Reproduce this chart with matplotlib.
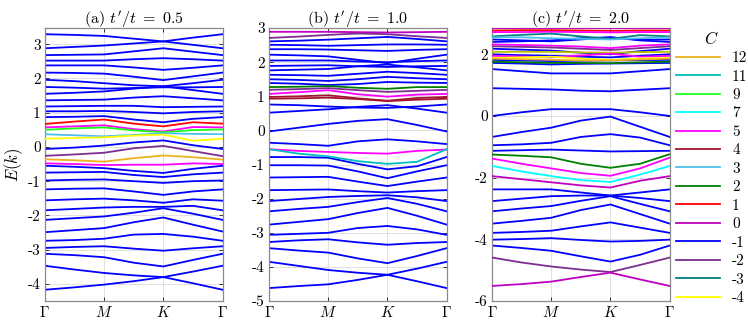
import matplotlib
matplotlib.use('Agg')
import matplotlib.pyplot as plt
from matplotlib.lines import Line2D

plt.rcParams['font.family'] = 'cmr10'
plt.rcParams['mathtext.fontset'] = 'cm'
plt.rcParams['axes.unicode_minus'] = False
plt.rcParams['axes.formatter.use_mathtext'] = True

# k path Gamma - M - K - Gamma, sampled at mid points too
k_pts = [0, 0.5, 1, 1.5, 2, 2.5, 3]
k_labels = [r'$\Gamma$', r'$M$', r'$K$', r'$\Gamma$']

# colour for each Chern number C
c_colors = {
    12: (0.93, 0.69, 0.13), 11: (0.0, 0.75, 0.75), 9: (0.1, 1.0, 0.1),
    7: (0.0, 1.0, 1.0), 6: (0.75, 0.75, 0.0), 5: (1.0, 0.0, 1.0),
    4: (0.64, 0.08, 0.18), 3: (0.30, 0.75, 0.93), 2: (0.0, 0.5, 0.0),
    1: (1.0, 0.0, 0.0), 0: (0.75, 0.0, 0.75), -1: (0.0, 0.0, 1.0),
    -2: (0.49, 0.18, 0.56), -3: (0.0, 0.5, 0.5), -4: (1.0, 1.0, 0.0),
}
legend_c = [12, 11, 9, 7, 5, 4, 3, 2, 1, 0, -1, -2, -3, -4]

# (a) t'/t = 0.5
bands_a = [
    [3.29, 3.27, 3.24, 3.16, 3.08, 3.19, 3.29],
    [2.88, 2.92, 2.96, 3.02, 3.08, 2.98, 2.88],
    [2.68, 2.69, 2.70, 2.79, 2.88, 2.78, 2.68],
    [2.52, 2.52, 2.52, 2.56, 2.59, 2.56, 2.52],
    [2.38, 2.38, 2.38, 2.32, 2.25, 2.31, 2.38],
    [2.17, 2.16, 2.14, 2.05, 1.95, 2.06, 2.17],
    [1.96, 1.92, 1.86, 1.80, 1.77, 1.86, 1.96],
    [1.75, 1.73, 1.70, 1.72, 1.74, 1.74, 1.75],
    [1.55, 1.58, 1.62, 1.70, 1.77, 1.66, 1.55],
    [1.36, 1.37, 1.38, 1.44, 1.48, 1.42, 1.36],
    [1.18, 1.19, 1.20, 1.20, 1.16, 1.17, 1.18],
    [1.04, 1.04, 1.05, 1.02, 0.98, 1.02, 1.04],
    [0.87, 0.88, 0.90, 0.80, 0.72, 0.82, 0.87],
    [0.67, 0.74, 0.80, 0.68, 0.60, 0.72, 0.68],
    [0.57, 0.60, 0.63, 0.52, 0.45, 0.58, 0.57],
    [0.50, 0.54, 0.57, 0.48, 0.43, 0.49, 0.51],
    [0.37, 0.34, 0.31, 0.35, 0.40, 0.38, 0.37],
    [0.24, 0.26, 0.28, 0.33, 0.36, 0.18, 0.24],
    [-0.06, -0.02, 0.04, 0.13, 0.19, 0.05, -0.06],
    [-0.26, -0.22, -0.17, -0.04, 0.03, -0.12, -0.27],
    [-0.36, -0.39, -0.43, -0.33, -0.25, -0.30, -0.37],
    [-0.48, -0.50, -0.53, -0.52, -0.52, -0.48, -0.50],
    [-0.55, -0.58, -0.62, -0.70, -0.76, -0.64, -0.55],
    [-0.75, -0.74, -0.73, -0.82, -0.88, -0.80, -0.75],
    [-0.98, -0.96, -0.95, -1.00, -1.05, -1.00, -0.98],
    [-1.24, -1.22, -1.21, -1.30, -1.40, -1.30, -1.24],
    [-1.56, -1.53, -1.51, -1.56, -1.63, -1.53, -1.57],
    [-1.85, -1.81, -1.77, -1.75, -1.75, -1.72, -1.85],
    [-2.13, -2.08, -2.03, -1.92, -1.79, -1.95, -2.13],
    [-2.49, -2.43, -2.37, -2.20, -2.06, -2.27, -2.47],
    [-2.74, -2.72, -2.68, -2.56, -2.54, -2.62, -2.74],
    [-2.95, -2.92, -2.90, -2.97, -3.03, -2.96, -2.90],
    [-3.12, -3.16, -3.22, -3.38, -3.49, -3.30, -3.12],
    [-3.47, -3.58, -3.68, -3.75, -3.80, -3.64, -3.47],
    [-4.17, -4.10, -4.02, -3.92, -3.80, -3.98, -4.17],
]
chern_a = [-1] * 13 + [1, 5, 9, 3, -4, -1, -2, 12, 5] + [-1] * 13

# (b) t'/t = 1.0
bands_b = [
    [2.89, 2.89, 2.89, 2.88, 2.87, 2.88, 2.89],
    [2.71, 2.75, 2.80, 2.84, 2.82, 2.76, 2.71],
    [2.61, 2.63, 2.66, 2.70, 2.74, 2.68, 2.61],
    [2.51, 2.50, 2.48, 2.50, 2.52, 2.52, 2.51],
    [2.38, 2.38, 2.37, 2.35, 2.33, 2.36, 2.38],
    [2.22, 2.20, 2.17, 2.07, 1.97, 2.10, 2.22],
    [2.05, 2.05, 2.05, 2.02, 2.00, 2.03, 2.05],
    [1.89, 1.90, 1.91, 1.88, 1.86, 1.88, 1.89],
    [1.76, 1.78, 1.80, 1.88, 1.93, 1.85, 1.76],
    [1.63, 1.62, 1.60, 1.66, 1.72, 1.68, 1.63],
    [1.50, 1.48, 1.45, 1.50, 1.57, 1.53, 1.50],
    [1.39, 1.37, 1.33, 1.36, 1.42, 1.40, 1.39],
    [1.27, 1.28, 1.30, 1.25, 1.22, 1.27, 1.27],
    [1.19, 1.21, 1.24, 1.18, 1.13, 1.16, 1.19],
    [1.07, 1.12, 1.18, 1.06, 0.99, 1.05, 1.07],
    [0.98, 1.00, 1.03, 0.94, 0.87, 0.95, 0.98],
    [0.93, 0.94, 0.96, 0.92, 0.86, 0.90, 0.93],
    [0.76, 0.74, 0.70, 0.67, 0.66, 0.70, 0.76],
    [0.52, 0.57, 0.62, 0.69, 0.74, 0.64, 0.52],
    [-0.03, 0.08, 0.19, 0.28, 0.33, 0.16, -0.03],
    [-0.36, -0.40, -0.45, -0.32, -0.26, -0.32, -0.40],
    [-0.55, -0.60, -0.63, -0.66, -0.68, -0.60, -0.56],
    [-0.55, -0.68, -0.76, -0.90, -0.98, -0.92, -0.55],
    [-0.78, -0.78, -0.80, -0.98, -1.14, -1.05, -0.78],
    [-1.02, -1.02, -1.03, -1.20, -1.40, -1.20, -1.02],
    [-1.38, -1.37, -1.36, -1.50, -1.63, -1.50, -1.38],
    [-1.75, -1.74, -1.73, -1.78, -1.82, -1.78, -1.75],
    [-2.07, -2.01, -1.95, -1.92, -1.90, -1.96, -2.07],
    [-2.37, -2.30, -2.24, -2.10, -1.98, -2.15, -2.37],
    [-2.76, -2.68, -2.60, -2.42, -2.27, -2.50, -2.76],
    [-3.06, -3.03, -3.00, -2.86, -2.80, -2.90, -3.06],
    [-3.27, -3.22, -3.19, -3.28, -3.35, -3.30, -3.27],
    [-3.45, -3.52, -3.58, -3.75, -3.89, -3.68, -3.45],
    [-3.85, -3.97, -4.09, -4.17, -4.23, -4.42, -4.62],
    [-4.62, -4.56, -4.51, -4.38, -4.23, -4.05, -3.85],
]
chern_b = [0, -2] + [-1] * 10 + [2, -2, 5, 4, 4] + [-1] * 4 + [5, 11] + [-1] * 12

# (c) t'/t = 2.0
bands_c = [
    [2.84, 2.84, 2.84, 2.84, 2.84, 2.84, 2.84],
    [2.77, 2.78, 2.78, 2.77, 2.76, 2.77, 2.77],
    [2.72, 2.72, 2.73, 2.72, 2.71, 2.72, 2.72],
    [2.58, 2.63, 2.67, 2.58, 2.50, 2.62, 2.58],
    [2.55, 2.55, 2.52, 2.50, 2.48, 2.52, 2.55],
    [2.48, 2.45, 2.42, 2.48, 2.55, 2.47, 2.48],
    [2.40, 2.42, 2.45, 2.52, 2.55, 2.45, 2.40],
    [2.32, 2.30, 2.28, 2.25, 2.20, 2.28, 2.32],
    [2.26, 2.24, 2.22, 2.18, 2.14, 2.20, 2.26],
    [2.18, 2.15, 2.12, 2.05, 2.00, 2.10, 2.18],
    [2.08, 2.08, 2.08, 2.06, 2.05, 2.07, 2.08],
    [2.00, 1.97, 1.95, 1.92, 1.90, 1.95, 2.00],
    [1.95, 1.93, 1.90, 1.96, 2.02, 1.92, 1.95],
    [1.88, 1.90, 1.92, 1.86, 1.82, 1.86, 1.88],
    [1.86, 1.84, 1.82, 1.80, 1.80, 1.83, 1.86],
    [1.82, 1.80, 1.78, 1.79, 1.80, 1.81, 1.82],
    [1.76, 1.74, 1.72, 1.72, 1.71, 1.74, 1.76],
    [1.72, 1.70, 1.67, 1.69, 1.70, 1.71, 1.72],
    [1.52, 1.45, 1.38, 1.38, 1.38, 1.45, 1.52],
    [0.90, 0.88, 0.86, 0.82, 0.80, 0.85, 0.90],
    [0.00, 0.12, 0.22, 0.22, 0.22, 0.12, 0.00],
    [-0.68, -0.52, -0.38, -0.15, -0.02, -0.35, -0.68],
    [-0.95, -0.92, -0.87, -0.68, -0.59, -0.70, -0.95],
    [-1.13, -1.11, -1.09, -1.12, -1.15, -1.14, -1.13],
    [-1.25, -1.29, -1.34, -1.55, -1.68, -1.55, -1.24],
    [-1.38, -1.55, -1.70, -1.85, -1.94, -1.70, -1.35],
    [-1.62, -1.80, -1.95, -2.08, -2.14, -1.90, -1.62],
    [-1.95, -2.05, -2.15, -2.25, -2.32, -2.10, -1.95],
    [-2.38, -2.38, -2.38, -2.48, -2.58, -2.48, -2.38],
    [-2.76, -2.68, -2.60, -2.58, -2.58, -2.66, -2.76],
    [-3.09, -3.00, -2.92, -2.75, -2.60, -2.85, -3.09],
    [-3.49, -3.40, -3.30, -3.05, -2.87, -3.18, -3.49],
    [-3.79, -3.76, -3.72, -3.58, -3.45, -3.62, -3.79],
    [-4.01, -3.99, -3.96, -4.02, -4.07, -4.05, -4.01],
    [-4.20, -4.28, -4.37, -4.55, -4.72, -4.50, -4.20],
    [-4.59, -4.75, -4.88, -4.98, -5.06, -4.83, -4.59],
    [-5.51, -5.45, -5.37, -5.22, -5.08, -5.30, -5.51],
]
chern_c = [0, 1, 5, -3, 3, -1, -1, 5, -2, -1, 6, -1, 5, -4, 12, -1, 2, -1,
           -1, -1, -1, -1, -1, -1, 2, 5, 7, 0, -1, -1, -1, -1, -1, -1, -1, -2, 0]

titles = [r"(a) $t'/t\ =\ 0.5$", r"(b) $t'/t\ =\ 1.0$", r"(c) $t'/t\ =\ 2.0$"]
ylims = [(-4.5, 3.47), (-5, 3), (-6, 2.85)]
yticks = [list(range(-4, 4)), list(range(-5, 4)), [-6, -4, -2, 0, 2]]
lefts = [0.060, 0.3596, 0.6578]

fig = plt.figure(figsize=(7.48, 3.36), dpi=100)
panels = [(bands_a, chern_a), (bands_b, chern_b), (bands_c, chern_c)]
for i, (bands, chern) in enumerate(panels):
    ax = fig.add_axes([lefts[i], 0.104, 0.2375, 0.8125])
    # blue bands underneath, coloured ones on top
    for b, c in zip(bands, chern):
        if c == -1:
            ax.plot(k_pts, b, color=c_colors[c], lw=1.3, zorder=2)
    for b, c in zip(bands, chern):
        if c != -1:
            ax.plot(k_pts, b, color=c_colors[c], lw=1.3, zorder=3)
    ax.set_xlim(0, 3)
    ax.set_ylim(*ylims[i])
    ax.set_xticks([0, 1, 2, 3])
    ax.set_xticklabels(k_labels, fontsize=11)
    ax.set_yticks(yticks[i])
    ax.set_yticklabels([str(v) for v in yticks[i]], fontsize=11)
    ax.grid(True, color='#dcdcdc', lw=0.6)
    ax.set_axisbelow(True)
    for s in ax.spines.values():
        s.set_color('#8a8a8a')
        s.set_linewidth(0.9)
    ax.tick_params(direction='in', length=3, width=0.7, top=True, right=True,
                   color='#333333', pad=3)
    ax.set_title(titles[i], fontsize=11.5, pad=3)
    if i == 0:
        ax.set_ylabel(r'$E(k)$', fontsize=12, labelpad=2)

handles = [Line2D([], [], color=c_colors[c], lw=1.3) for c in legend_c]
leg = fig.legend(handles, [str(c) for c in legend_c], loc='upper left',
                 bbox_to_anchor=(0.895, 0.93), frameon=False, title=r'$C$',
                 fontsize=11, title_fontsize=12, handlelength=2.9,
                 handletextpad=0.8, labelspacing=0.31, borderaxespad=0)

fig.savefig('out.png', dpi=100)
